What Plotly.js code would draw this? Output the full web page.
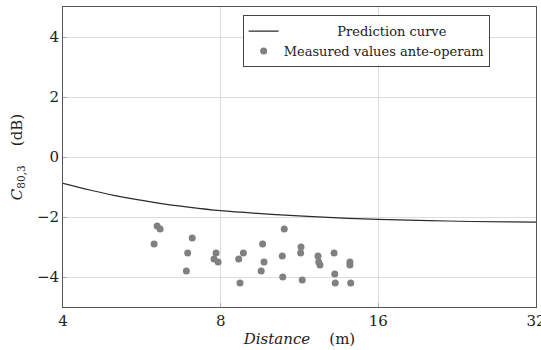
<!DOCTYPE html>
<html>
<head>
<meta charset="utf-8">
<script src="https://cdn.plot.ly/plotly-3.0.1.min.js"></script>
<style>
html,body{margin:0;padding:0;background:#fff;}
#chart{width:541px;height:350px;}
</style>
</head>
<body>
<div id="chart"></div>
<script>
// Prediction curve
const curveDistance = [4, 4.5, 5, 6, 7, 8, 10, 12, 16, 20, 24, 32];
const curveC80 = [-0.88, -1.10, -1.28, -1.52, -1.68, -1.79, -1.91, -1.99, -2.08, -2.12, -2.15, -2.17];

// Measured values ante-operam
const measDistance = [5.97, 6.05, 6.13, 7.06, 6.92, 6.88, 7.84, 7.77, 7.91, 8.66, 8.71, 8.84,
  9.62, 9.68, 9.56, 10.58, 10.49, 10.51, 11.39, 11.37, 11.45, 12.27, 12.31, 12.38,
  13.17, 13.21, 13.24, 14.12, 14.12, 14.17];
const measC80 = [-2.9, -2.3, -2.4, -2.7, -3.2, -3.8, -3.2, -3.4, -3.5, -3.4, -4.2, -3.2,
  -2.9, -3.5, -3.8, -2.4, -3.3, -4.0, -3.0, -3.2, -4.1, -3.3, -3.5, -3.6,
  -3.2, -3.9, -4.2, -3.5, -3.6, -4.2];

const xTicks = [4, 8, 16, 32];
const xTickText = ['4', '8', '16', '32'];
const yTicks = [-4, -2, 0, 2, 4];

const font = 'DejaVu Serif';

const traces = [
  {
    x: curveDistance, y: curveC80, type: 'scatter', mode: 'lines',
    name: '\u00a0\u00a0\u00a0\u00a0\u00a0\u00a0\u00a0\u00a0\u00a0\u00a0\u00a0\u00a0\u00a0Prediction curve',
    line: {color: '#2b2b2b', width: 1.2, shape: 'spline'}
  },
  {
    x: measDistance, y: measC80, type: 'scatter', mode: 'markers',
    name: 'Measured values ante-operam',
    marker: {color: '#808080', size: 7}
  }
];

const layout = {
  width: 541, height: 350,
  margin: {l: 63, r: 5, t: 7, b: 43},
  paper_bgcolor: '#fff', plot_bgcolor: '#fff',
  font: {family: font, size: 14, color: '#222'},
  showlegend: true,
  legend: {
    x: 0.902, y: 0.973, xanchor: 'right', yanchor: 'top',
    bgcolor: '#fff', bordercolor: '#444', borderwidth: 1,
    font: {family: font, size: 13, color: '#222'},
    tracegroupgap: 0, itemwidth: 30
  },
  xaxis: {
    type: 'log',
    range: [Math.log10(4), Math.log10(32)],
    tickvals: xTicks, ticktext: xTickText,
    ticklabeloverflow: 'allow',
    showgrid: true, gridcolor: '#dcdcdc', gridwidth: 1,
    showline: true, linecolor: '#555', linewidth: 1, mirror: true,
    ticks: 'inside', ticklen: 4, tickcolor: '#aaa',
    tickfont: {family: font, size: 15},
    zeroline: false,
    title: {text: '<i>Distance</i>\u00a0\u00a0\u00a0\u00a0(m)', font: {family: font, size: 15}, standoff: 4}
  },
  yaxis: {
    range: [-5, 5],
    tickvals: yTicks,
    showgrid: true, gridcolor: '#dcdcdc', gridwidth: 1,
    showline: true, linecolor: '#555', linewidth: 1, mirror: true,
    ticks: 'inside', ticklen: 4, tickcolor: '#aaa',
    tickfont: {family: font, size: 15},
    zeroline: false,
    title: {text: '<i>C</i><sub>80,3</sub>\u00a0\u00a0\u00a0\u00a0(dB)', font: {family: font, size: 15}, standoff: 10}
  }
};

Plotly.newPlot('chart', traces, layout, {displayModeBar: false, staticPlot: true});
</script>
</body>
</html>
